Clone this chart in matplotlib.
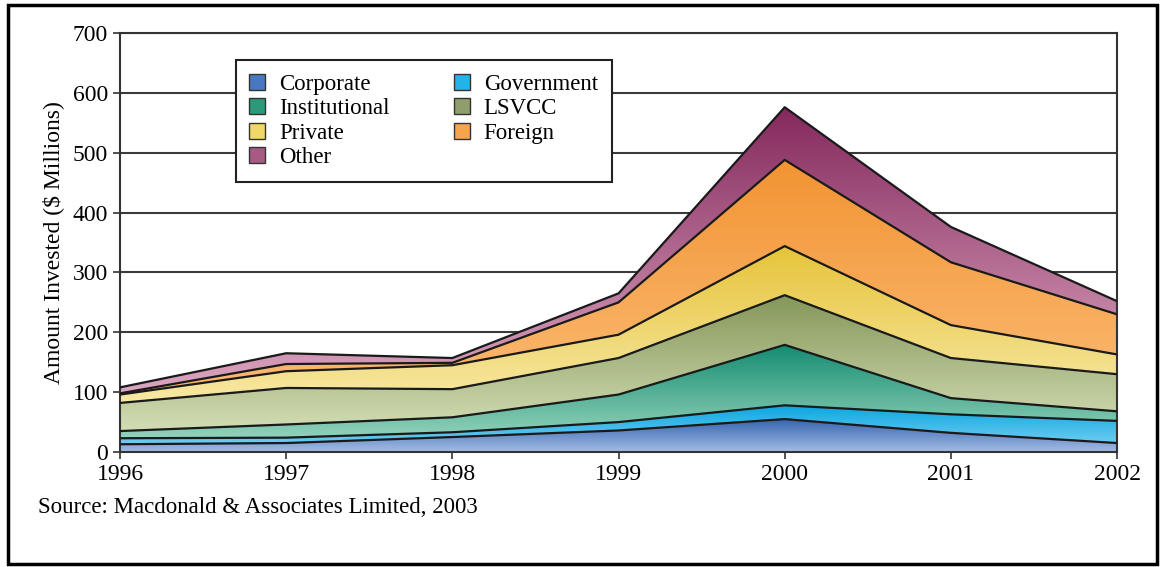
import numpy as np
import matplotlib
matplotlib.use("Agg")
import matplotlib.pyplot as plt
from matplotlib.patches import Patch, Rectangle
from matplotlib.colors import to_rgb

plt.rcParams['font.family'] = ['Liberation Serif', 'DejaVu Serif']

# data ($ millions)
years = [1996, 1997, 1998, 1999, 2000, 2001, 2002]
corporate = [13, 15, 25, 36, 55, 32, 15]
government = [10, 9, 8, 14, 23, 31, 37]
institutional = [12, 22, 25, 46, 101, 27, 16]
lsvcc = [47, 61, 47, 61, 83, 67, 62]
private = [14, 28, 40, 39, 82, 55, 33]
foreign = [2, 12, 4, 54, 144, 105, 67]
other = [10, 18, 8, 15, 88, 59, 22]

names = ["Corporate", "Government", "Institutional", "LSVCC",
         "Private", "Foreign", "Other"]
series = [corporate, government, institutional, lsvcc, private, foreign, other]
# (dark top colour, light bottom colour)
colours = [("#3565b0", "#a4bce4"),
           ("#0aa6e0", "#6fcdf2"),
           ("#148c70", "#92d2bb"),
           ("#85975a", "#d3ddb4"),
           ("#e6c43a", "#f8e8a4"),
           ("#f29433", "#fbba72"),
           ("#84285c", "#dca6c0")]
legend_colours = ["#4a78c0", "#22b4e8", "#2a9a7a", "#8f9e6c",
                  "#f0d868", "#f6a450", "#a85a84"]

fig = plt.figure(figsize=(11.63, 5.67), dpi=100)
ax = fig.add_axes([0.1032, 0.2028, 0.8573, 0.739])

x = np.array(years, dtype=float)
lower = np.zeros(len(years))
for vals, (dark, light) in zip(series, colours):
    upper = lower + np.array(vals)
    poly = ax.fill_between(x, lower, upper, facecolor="none", edgecolor="none", zorder=2)
    y0, y1 = lower.min(), upper.max()
    t = np.linspace(0, 1, 256)[:, None]
    c0 = np.array(to_rgb(light))
    c1 = np.array(to_rgb(dark))
    grad = (c0 + (c1 - c0) * t)[:, None, :]
    im = ax.imshow(grad, extent=[x[0], x[-1], y0, y1], origin="lower",
                   aspect="auto", zorder=2, interpolation="bilinear")
    im.set_clip_path(poly.get_paths()[0], transform=ax.transData)
    ax.plot(x, upper, color="#1a1a1a", lw=1.6, zorder=3)
    lower = upper

ax.set_xlim(1996, 2002)
ax.set_ylim(0, 700)
ax.set_xticks(years)
ax.set_yticks(range(0, 701, 100))
ax.tick_params(labelsize=17, direction="out", length=5, width=1.2, color="#333333")
ax.grid(axis="y", color="#3a3a3a", lw=1.5, zorder=0.5)
ax.set_axisbelow(True)
for s in ax.spines.values():
    s.set_color("#333333")
    s.set_linewidth(1.5)
ax.set_ylabel("Amount Invested ($ Millions)", fontsize=17, labelpad=6)

handles = [Patch(facecolor=c, edgecolor="#333333", label=n)
           for n, c in zip(names, legend_colours)]
order = [0, 2, 4, 6, 1, 3, 5]
leg = ax.legend([handles[i] for i in order], [names[i] for i in order],
                ncol=2, loc="upper left", bbox_to_anchor=(0.116, 0.936),
                borderaxespad=0, fontsize=16.5, frameon=True, fancybox=False,
                framealpha=1, edgecolor="#222222", handlelength=0.7,
                handleheight=0.7, labelspacing=0.15, columnspacing=2.8,
                handletextpad=0.6, borderpad=0.6)
leg.get_frame().set_linewidth(1.5)
leg.set_zorder(5)

fig.text(0.033, 0.095, "Source: Macdonald & Associates Limited, 2003", fontsize=16.5)
fig.patches.append(Rectangle((0.007, 0.006), 0.988, 0.985, transform=fig.transFigure,
                             fill=False, edgecolor="black", lw=2.5))

fig.savefig("out.png", dpi=100)
